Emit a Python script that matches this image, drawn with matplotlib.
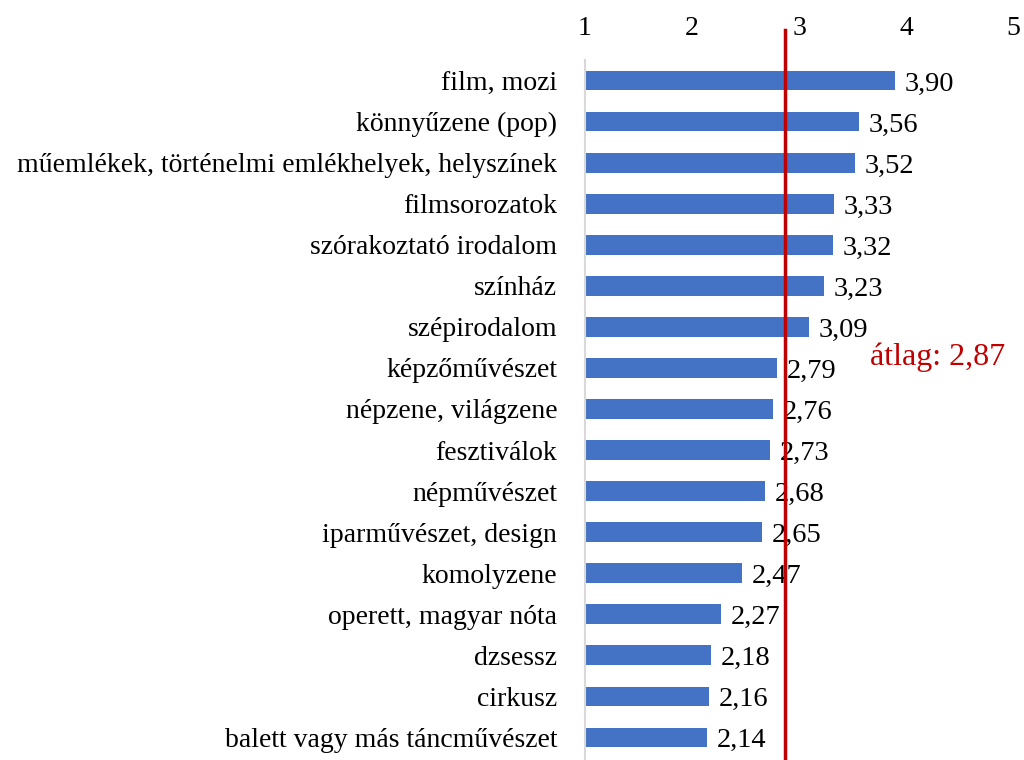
import matplotlib.pyplot as plt

plt.rcParams['font.family'] = ['Liberation Serif', 'DejaVu Serif']

categories = [
    'film, mozi',
    'könnyűzene (pop)',
    'műemlékek, történelmi emlékhelyek, helyszínek',
    'filmsorozatok',
    'szórakoztató irodalom',
    'színház',
    'szépirodalom',
    'képzőművészet',
    'népzene, világzene',
    'fesztiválok',
    'népművészet',
    'iparművészet, design',
    'komolyzene',
    'operett, magyar nóta',
    'dzsessz',
    'cirkusz',
    'balett vagy más táncművészet',
]
values = [3.90, 3.56, 3.52, 3.33, 3.32, 3.23, 3.09, 2.79, 2.76, 2.73,
          2.68, 2.65, 2.47, 2.27, 2.18, 2.16, 2.14]
average = 2.87
xticks = [1, 2, 3, 4, 5]

fig = plt.figure(figsize=(10.24, 7.6), dpi=100)
ax = fig.add_axes([0.5713, 0.0, 0.4180, 0.921])

y = list(range(len(categories)))
ax.barh(y, [v - 1 for v in values], left=1, height=0.48, color='#4472C4')

for yi, v in zip(y, values):
    ax.annotate(f'{v:.2f}'.replace('.', ','), (v, yi), xytext=(7, -2.5),
                textcoords='offset points', va='center', ha='left', fontsize=20.5)

ax.axvline(average, ymin=0, ymax=1.043, color='#C00000', lw=2.5, clip_on=False, zorder=3)
ax.text(3.66, 6.75, f'átlag: {average:.2f}'.replace('.', ','), color='#C00000',
        fontsize=23, va='center', ha='left')

ax.set_xlim(1, 5)
ax.set_ylim(16.55, -0.5)
ax.set_yticks(y)
ax.set_yticklabels(categories, fontsize=20)
ax.set_xticks(xticks)
ax.set_xticklabels([str(t) for t in xticks], fontsize=20)
ax.xaxis.tick_top()
ax.tick_params(axis='x', length=0, pad=14)
ax.tick_params(axis='y', length=0, pad=20)

for side in ['top', 'right', 'bottom']:
    ax.spines[side].set_visible(False)
ax.spines['left'].set_color('#d9d9d9')
ax.spines['left'].set_linewidth(1.5)

fig.savefig('out.png', dpi=100)
